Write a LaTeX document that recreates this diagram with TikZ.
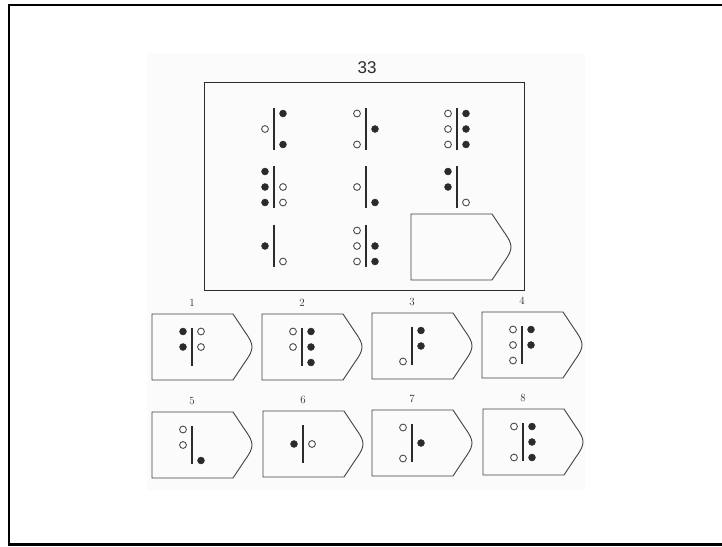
\documentclass[tikz,border=0pt]{standalone}
\usepackage{fontspec}
\newfontfamily\headfont{Liberation Sans}
\definecolor{pzink}{HTML}{2B2B2B}
\definecolor{pzscan}{HTML}{FBFBFB}
\tikzset{
  outerframe/.style={line width=2.5pt, black},
  panel/.style={draw=pzink, line width=1pt},
  bar/.style={draw=pzink, line width=1.7pt},
  dotf/.style={fill=pzink, draw=pzink, line width=0.6pt},
  doto/.style={fill=white, draw=pzink!85, line width=0.9pt},
  tagline/.style={draw=pzink!90, line width=0.9pt},
  numlbl/.style={font=\fontsize{11}{13}\selectfont, text=pzink},
  tag/.pic={\draw[tagline] (0,0) -- (81,0) -- (93,18) .. controls (98,25) and (100,29) .. (100,33) .. controls (100,37) and (98,41) .. (93,48) -- (81,66) -- (0,66) -- cycle;},
}
\begin{document}
\begin{tikzpicture}[x=1pt,y=-1pt]
  \useasboundingbox (0,0) rectangle (722,546);
  \clip (0,0) rectangle (722,546);
  \draw[outerframe] (730,5) -| (9,544.5) -- (730,544.5);
  \fill[pzscan] (147,53) rectangle (585,490);

  % matrix with the missing cell
  \node[font=\headfont\fontsize{17}{20}\selectfont, text=pzink] (title) at (367,68) {33};
  \draw[panel] (204,82) rectangle (524,290);
  \foreach \x/\y/\L/\R in {274/129/{0/o}/{-1/f,1/f}, 366/129/{-1/o,1/o}/{0/f}, 457/129/{-1/o,0/o,1/o}/{-1/f,0/f,1/f},
                           274/187/{-1/f,0/f,1/f}/{0/o,1/o}, 366/187/{0/o}/{1/f}, 457/187/{-1/f,0/f}/{1/o},
                           274/246/{0/f}/{1/o}, 366/246/{-1/o,0/o,1/o}/{0/f,1/f}}
  {
    \draw[bar] (\x,\y-21) -- (\x,\y+21);
    \foreach \s/\t in \L {\draw[dot\t] (\x-9,\y+\s*15.5) circle[radius=3.4pt];}
    \foreach \s/\t in \R {\draw[dot\t] (\x+9,\y+\s*15.5) circle[radius=3.4pt];}
  }
  \pic at (411,214) {tag};

  % answer choices 1..8
  \foreach \n/\lx/\ty/\L/\R in {1/152/314/{-1/f,0/f}/{-1/o,0/o}, 2/262/314/{-1/o,0/o}/{-1/f,0/f,1/f},
                                3/372/313/{1/o}/{-1/f,0/f}, 4/482/312/{-1/o,0/o,1/o}/{-1/f,0/f},
                                5/152/412/{-1/o,0/o}/{1/f}, 6/263/411/{0/f}/{0/o},
                                7/372/410/{-1/o,1/o}/{0/f}, 8/483/409/{-1/o,1/o}/{-1/f,0/f,1/f}}
  {
    \pic at (\lx,\ty) {tag};
    \node[numlbl] (num\n) at (\lx+40,\ty-11) {\n};
    \draw[bar] (\lx+40,\ty+14) -- (\lx+40,\ty+52);
    \foreach \s/\t in \L {\draw[dot\t] (\lx+31,\ty+33+\s*15.5) circle[radius=3.4pt];}
    \foreach \s/\t in \R {\draw[dot\t] (\lx+49,\ty+33+\s*15.5) circle[radius=3.4pt];}
  }
\end{tikzpicture}
\end{document}
